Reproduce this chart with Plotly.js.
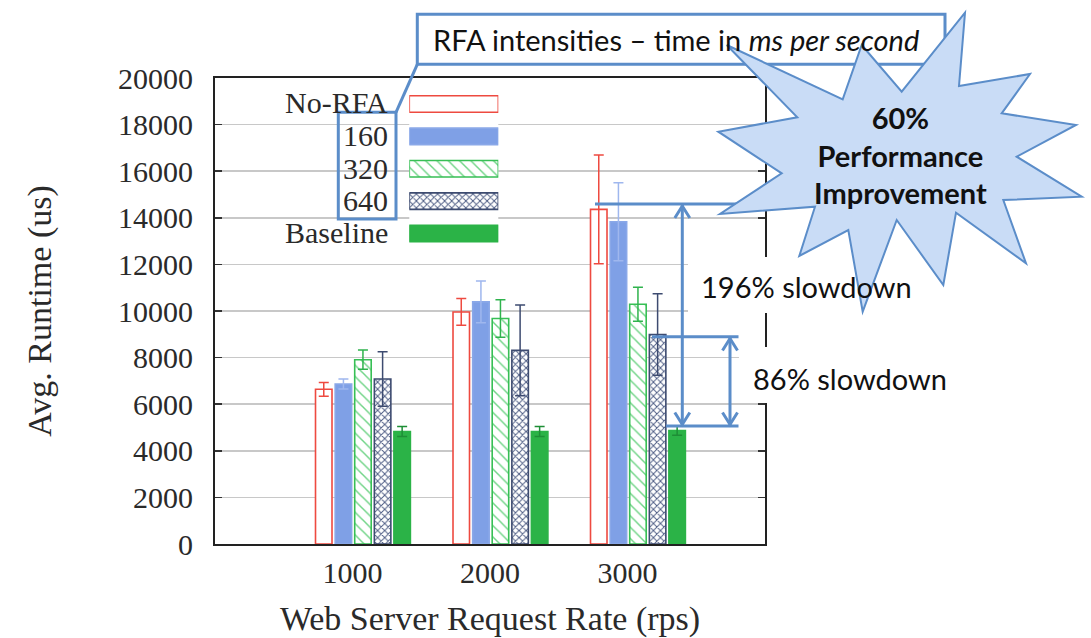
<!DOCTYPE html>
<html>
<head>
<meta charset="utf-8">
<script src="https://cdn.plot.ly/plotly-3.0.1.min.js"></script>
<style>html,body{margin:0;padding:0;background:#fff;}#chart{width:1091px;height:638px;}</style>
</head>
<body>
<div id="chart"></div>
<script>
// ---------------- data ----------------
const rates = [1000, 2000, 3000];
const rateLabels = ['1000', '2000', '3000'];
const seriesNames = ['No-RFA', '160', '320', '640', 'Baseline'];
const noRFA = [6640, 9960, 14360];
const noRFAErr = [295, 575, 2330];
const rfa160 = [6870, 10390, 13830];
const rfa160Err = [215, 895, 1670];
const rfa320 = [7910, 9680, 10290];
const rfa320Err = [415, 805, 725];
const rfa640 = [7080, 8310, 8990];
const rfa640Err = [1170, 1950, 1745];
const baseline = [4830, 4830, 4870];
const baselineErr = [215, 215, 200];
const yTickVals = [0, 2000, 4000, 6000, 8000, 10000, 12000, 14000, 16000, 18000, 20000];
const yTickText = ['0', '2000', '4000', '6000', '8000', '10000', '12000', '14000', '16000', '18000', '20000'];
const legendKey = [1];   // unit length of a legend swatch

// ---------------- styles ----------------
const W = 1091, H = 638;
const M = {l: 215, r: 326, t: 78, b: 94};
const PW = W - M.l - M.r, PH = H - M.t - M.b;
const px = x => (x - M.l) / PW;          // page pixel -> paper x
const py = y => (H - M.b - y) / PH;      // page pixel -> paper y

const BLUE = '#5b8dc9';
const serif = 'Liberation Serif, Times New Roman, serif';
const sans = 'Lato, Open Sans, sans-serif';

const styles = [
  {fill: '#ffffff', line: '#ee4a40', err: '#ee4a40', pattern: {shape: ''}},
  {fill: '#7fa0e6', line: '#8aa8e8', err: '#9fb7ee', pattern: {shape: ''}},
  {fill: '#ffffff', line: '#37bf55', err: '#2fb34d', pattern: {shape: '\\', fgcolor: '#6fd486', bgcolor: '#ffffff', size: 8, solidity: 0.18}},
  {fill: '#ffffff', line: '#3d4b70', err: '#3d4b70', pattern: {shape: 'x', fgcolor: '#4d5c84', bgcolor: '#ffffff', size: 5, solidity: 0.35}},
  {fill: '#2bb347', line: '#2bb347', err: '#1e8e36', pattern: {shape: ''}}
];
const values = [noRFA, rfa160, rfa320, rfa640, baseline];
const errors = [noRFAErr, rfa160Err, rfa320Err, rfa640Err, baselineErr];
const barWidth = 120;
const barOffsets = [-269, -126, 16, 159, 301];

const traces = [];
values.forEach((vals, i) => {
  const s = styles[i];
  const marker = {color: s.fill, line: {color: s.line, width: 1.6}};
  if (s.pattern.shape) marker.pattern = s.pattern;
  traces.push({
    type: 'bar', name: seriesNames[i], x: rates, y: vals,
    width: barWidth, offset: barOffsets[i],
    marker: marker, showlegend: false, hoverinfo: 'skip',
    error_y: {type: 'data', array: errors[i], visible: true, color: s.err, thickness: 1.5, width: 5}
  });
});

// legend swatches on their own small axis pair
const swL = 409.3, swR = 498.3, swTop = 87.8, swBot = 249.7;
seriesNames.forEach((n, i) => {
  const s = styles[i];
  const marker = {color: s.fill, line: {color: s.line, width: 1.6}};
  if (s.pattern.shape) marker.pattern = s.pattern;
  traces.push({
    type: 'bar', orientation: 'h', name: n, x: legendKey, y: [i], base: 0,
    width: 0.51, xaxis: 'x2', yaxis: 'y2', marker: marker,
    showlegend: false, hoverinfo: 'skip'
  });
});

// ---------------- shapes ----------------
const shapes = [];
// legend background hiding the grid
shapes.push({type: 'rect', xref: 'paper', yref: 'paper', x0: px(231), x1: px(516), y0: py(84), y1: py(251),
  fillcolor: '#ffffff', line: {width: 0}, layer: 'between'});
// white boxes behind the slowdown texts
shapes.push({type: 'rect', xref: 'paper', yref: 'paper', x0: px(688), x1: px(915), y0: py(257), y1: py(313),
  fillcolor: '#ffffff', line: {width: 0}, layer: 'above'});
shapes.push({type: 'rect', xref: 'paper', yref: 'paper', x0: px(739), x1: px(950), y0: py(347), y1: py(403),
  fillcolor: '#ffffff', line: {width: 0}, layer: 'above'});
// measurement lines
const L = (x0, y0, x1, y1) => ({type: 'line', xref: 'paper', yref: 'paper', x0: px(x0), y0: py(y0), x1: px(x1), y1: py(y1),
  line: {color: BLUE, width: 3}, layer: 'above'});
shapes.push(L(595, 204, 760, 204));
shapes.push(L(652, 336.7, 738.5, 336.7));
shapes.push(L(666, 426, 738.5, 426));
shapes.push(L(682.3, 205, 682.3, 425));
shapes.push(L(730, 338, 730, 425));
const head = (x, y, dir) => {
  const d = 12 * dir;
  return {type: 'path', xref: 'paper', yref: 'paper',
    path: `M ${px(x - 7.5)},${py(y + d)} L ${px(x)},${py(y)} L ${px(x + 7.5)},${py(y + d)}`,
    line: {color: BLUE, width: 3}, layer: 'above'};
};
shapes.push(head(682.3, 206, 1));
shapes.push(head(682.3, 424.5, -1));
shapes.push(head(730, 338.5, 1));
shapes.push(head(730, 424.5, -1));
// callout
shapes.push({type: 'rect', xref: 'paper', yref: 'paper', x0: px(417.3), x1: px(945), y0: py(14.3), y1: py(64.3),
  fillcolor: '#ffffff', line: {color: BLUE, width: 3}, layer: 'above'});
shapes.push({type: 'rect', xref: 'paper', yref: 'paper', x0: px(338.3), x1: px(396), y0: py(112.3), y1: py(219),
  line: {color: BLUE, width: 3}, layer: 'above'});
shapes.push(L(417.3, 64.3, 396, 112.3));
// starburst
const star = [[965,12.7],[959,86],[1030,74],[1001.7,113.3],[1076,125],[1016.7,156.7],[1081.7,196.7],[1003.3,200],
  [1026,263.3],[956,212.7],[943.3,285],[896.7,220],[862.7,311.7],[848.3,230],[799.3,256],[815,206.7],[720,214],
  [781.7,173.3],[718.3,131.7],[797.3,117.3],[726.7,45],[842.7,99.3],[861.7,45],[901.7,91.7]];
shapes.push({type: 'path', xref: 'paper', yref: 'paper',
  path: 'M ' + star.map(p => px(p[0]) + ',' + py(p[1])).join(' L ') + ' Z',
  fillcolor: '#c9dcf6', line: {color: BLUE, width: 2}, layer: 'above'});

// ---------------- annotations ----------------
const annotations = [];
const swCenters = [104, 136.7, 169, 201, 233.3];
seriesNames.forEach((n, i) => {
  annotations.push({xref: 'paper', yref: 'paper', x: px(390), y: py(swCenters[i] - 1), xanchor: 'right', yanchor: 'middle',
    text: n, showarrow: false, font: {family: serif, size: 30, color: '#2a2a2a'}});
});
annotations.push({xref: 'paper', yref: 'paper', x: px(431), y: py(40), xanchor: 'left', yanchor: 'middle',
  text: 'RFA intensities – time in <i>ms per second</i>', showarrow: false, font: {family: sans, size: 29, color: '#111'}});
annotations.push({xref: 'paper', yref: 'paper', x: px(699), y: py(286), xanchor: 'left', yanchor: 'middle',
  text: '196% slowdown', showarrow: false, font: {family: sans, size: 29, color: '#111'}});
annotations.push({xref: 'paper', yref: 'paper', x: px(751), y: py(378), xanchor: 'left', yanchor: 'middle',
  text: '86% slowdown', showarrow: false, font: {family: sans, size: 29, color: '#111'}});
annotations.push({xref: 'paper', yref: 'paper', x: px(900), y: py(155), xanchor: 'center', yanchor: 'middle',
  text: '<b>60%</b><br><b>Performance</b><br><b>Improvement</b>', showarrow: false, align: 'center',
  font: {family: sans, size: 29, color: '#111'}});

// ---------------- layout ----------------
const layout = {
  width: W, height: H,
  margin: M,
  paper_bgcolor: '#ffffff', plot_bgcolor: '#ffffff',
  barmode: 'overlay',
  showlegend: false,
  font: {family: serif, color: '#2a2a2a'},
  xaxis: {
    range: [0, 4000], tickvals: rates, ticktext: rateLabels, ticks: '', showgrid: false, zeroline: false,
    showline: true, linecolor: '#222', linewidth: 2, mirror: true,
    tickfont: {family: serif, size: 30, color: '#2a2a2a'}, ticklabelstandoff: 1,
    title: {text: 'Web Server Request Rate (rps)', font: {family: serif, size: 34, color: '#2a2a2a'}, standoff: 33},
    fixedrange: true
  },
  yaxis: {
    range: [0, 20000], tickvals: yTickVals, ticktext: yTickText, ticks: 'inside', ticklen: 7, tickwidth: 1.5, tickcolor: '#333',
    showgrid: true, gridcolor: '#c8c8c8', gridwidth: 1.5, zeroline: false,
    showline: true, linecolor: '#222', linewidth: 2, mirror: 'ticks',
    tickfont: {family: serif, size: 30, color: '#2a2a2a'}, ticklabelstandoff: 14,
    title: {text: 'Avg. Runtime (us)', font: {family: serif, size: 34, color: '#2a2a2a'}, standoff: 56},
    fixedrange: true
  },
  xaxis2: {domain: [px(swL), px(swR)], range: [0, 1], anchor: 'y2', visible: false, fixedrange: true},
  yaxis2: {domain: [py(swBot), py(swTop)], range: [4.5, -0.5], anchor: 'x2', visible: false, fixedrange: true},
  shapes: shapes,
  annotations: annotations
};

Plotly.newPlot('chart', traces, layout, {staticPlot: true, displayModeBar: false});
</script>
</body>
</html>
